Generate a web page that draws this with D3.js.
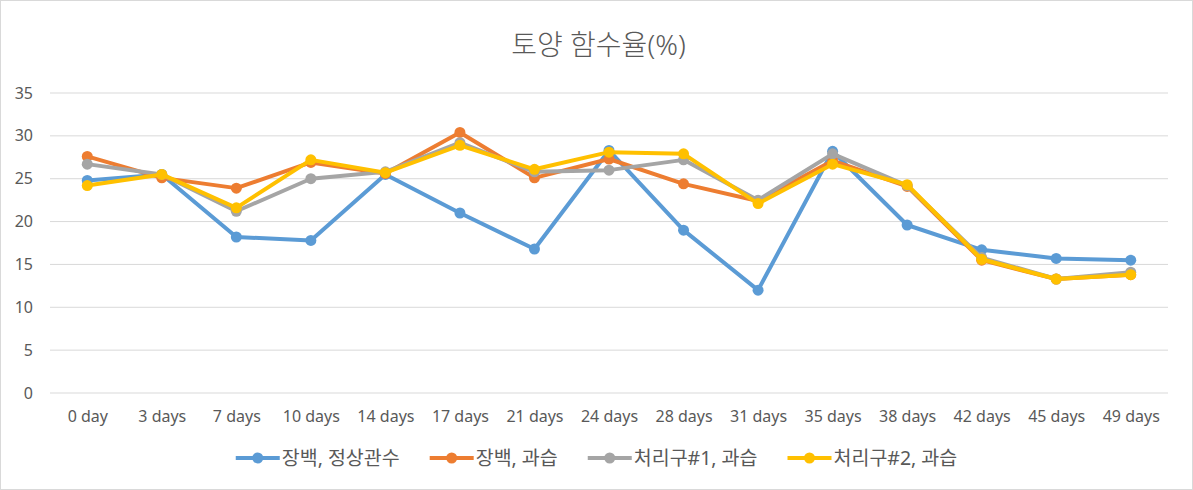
<!DOCTYPE html>
<html>
<head>
<meta charset="utf-8">
<script src="https://cdn.jsdelivr.net/npm/d3@7"></script>
<style>
  body { margin: 0; background: #fff; }
  #chart { width: 1193px; height: 490px; }
  text { font-family: "Noto Sans", "Noto Sans CJK KR", sans-serif; fill: #595959; }
</style>
</head>
<body>
<div id="chart"></div>
<script>
// days of measurement
var days = ["0 day", "3 days", "7 days", "10 days", "14 days", "17 days", "21 days", "24 days",
            "28 days", "31 days", "35 days", "38 days", "42 days", "45 days", "49 days"];

var seriesNames = ["장백, 정상관수", "장백, 과습", "처리구#1, 과습", "처리구#2, 과습"];
var seriesColors = ["#5B9BD5", "#ED7D31", "#A5A5A5", "#FFC000"];

var normal   = [24.8, 25.5, 18.2, 17.8, 25.5, 21.0, 16.8, 28.3, 19.0, 12.0, 28.2, 19.6, 16.7, 15.7, 15.5];
var wet      = [27.6, 25.1, 23.9, 26.9, 25.6, 30.4, 25.1, 27.3, 24.4, 22.4, 27.1, 24.1, 15.5, 13.3, 13.8];
var treat1   = [26.7, 25.5, 21.2, 25.0, 25.8, 29.2, 25.8, 26.0, 27.2, 22.5, 27.9, 24.2, 15.8, 13.3, 14.1];
var treat2   = [24.2, 25.5, 21.6, 27.2, 25.7, 28.9, 26.1, 28.1, 27.9, 22.1, 26.7, 24.3, 15.6, 13.3, 13.8];

var yTicks = [0, 5, 10, 15, 20, 25, 30, 35];

drawChart(1193, 490);

function drawChart(w, h) {
  var margin = {top: 93, right: 25, bottom: 97, left: 50},
      width = w - margin.left - margin.right,
      height = h - margin.top - margin.bottom;

  var svg = d3.select("#chart").append("svg")
      .attr("width", w)
      .attr("height", h);

  // outer frame
  svg.append("rect")
      .attr("x", 0.5).attr("y", 0.5)
      .attr("width", w - 1).attr("height", h - 1)
      .attr("fill", "#fff")
      .attr("stroke", "#d9d9d9");

  svg.append("text")
      .attr("x", w / 2 + 2)
      .attr("y", 55)
      .attr("text-anchor", "middle")
      .style("font-size", "28px")
      .style("font-weight", 300)
      .text("토양 함수율(%)");

  var g = svg.append("g")
      .attr("transform", "translate(" + margin.left + "," + margin.top + ")");

  var x = d3.scalePoint()
      .domain(days)
      .range([0, width])
      .padding(0.5);

  var y = d3.scaleLinear()
      .domain([0, 35])
      .range([height, 0]);

  // gridlines
  g.selectAll(".grid")
      .data(yTicks)
      .enter().append("line")
      .attr("class", "grid")
      .attr("x1", 0).attr("x2", width)
      .attr("y1", function(d) { return y(d); })
      .attr("y2", function(d) { return y(d); })
      .attr("stroke", "#d9d9d9")
      .attr("stroke-width", 1);

  // y axis
  var yAxis = g.append("g")
      .call(d3.axisLeft(y).tickValues(yTicks).tickSize(0).tickPadding(17));
  yAxis.select(".domain").remove();
  yAxis.selectAll("text").style("font-size", "16px").attr("fill", "#595959");

  // x axis
  var xAxis = g.append("g")
      .attr("transform", "translate(0," + height + ")")
      .call(d3.axisBottom(x).tickSize(0).tickPadding(18));
  xAxis.select(".domain").remove();
  xAxis.selectAll("text").style("font-size", "16px").attr("fill", "#595959");

  var allSeries = [normal, wet, treat1, treat2];

  var line = d3.line()
      .x(function(d, i) { return x(days[i]); })
      .y(function(d) { return y(d); });

  allSeries.forEach(function(vals, k) {
    g.append("path")
        .datum(vals)
        .attr("fill", "none")
        .attr("stroke", seriesColors[k])
        .attr("stroke-width", 4)
        .attr("stroke-linejoin", "round")
        .attr("d", line);
    g.selectAll(".pt" + k)
        .data(vals)
        .enter().append("circle")
        .attr("class", "pt" + k)
        .attr("cx", function(d, i) { return x(days[i]); })
        .attr("cy", function(d) { return y(d); })
        .attr("r", 5.5)
        .attr("fill", seriesColors[k]);
  });

  // legend
  var legend = svg.append("g").attr("transform", "translate(0,458)");
  var items = legend.selectAll(".item")
      .data(seriesNames)
      .enter().append("g")
      .attr("class", "item");
  items.append("text")
      .attr("x", 46)
      .attr("y", 7)
      .style("font-size", "19.5px")
      .text(function(d) { return d; });

  var gap = 30, widths = [];
  items.each(function() { widths.push(46 + this.querySelector("text").getComputedTextLength()); });
  var total = d3.sum(widths) + gap * (widths.length - 1);
  var cur = (w - total) / 2;
  items.attr("transform", function(d, i) {
    var tx = cur; cur += widths[i] + gap;
    return "translate(" + tx + ",0)";
  });
  items.append("line")
      .attr("x1", 0).attr("x2", 44)
      .attr("y1", 0).attr("y2", 0)
      .attr("stroke", function(d, i) { return seriesColors[i]; })
      .attr("stroke-width", 4);
  items.append("circle")
      .attr("cx", 22).attr("cy", 0).attr("r", 5.5)
      .attr("fill", function(d, i) { return seriesColors[i]; });
}
</script>
</body>
</html>
